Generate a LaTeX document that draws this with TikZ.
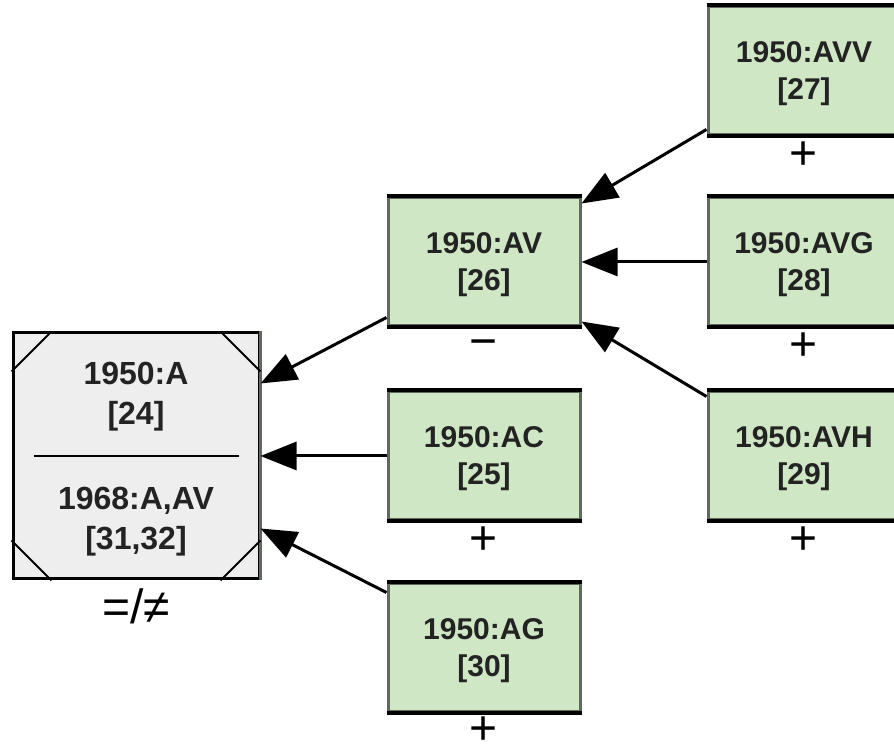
\documentclass[tikz,border=0pt]{standalone}
\usepackage{fontspec}
\setmainfont{Liberation Sans}
\usetikzlibrary{arrows.meta,positioning,calc}
\definecolor{boxgreen}{RGB}{208,231,198}
\definecolor{boxgray}{RGB}{238,238,238}
\definecolor{sidegray}{RGB}{95,105,95}
\definecolor{textgray}{RGB}{35,35,35}

\begin{document}
\begin{tikzpicture}[x=1pt,y=1pt,
  box/.style={fill=boxgreen,draw=sidegray,line width=3pt,
    minimum width=192pt,minimum height=128pt,inner sep=0pt,
    align=center,text=textgray,font=\fontsize{30}{37}\selectfont\bfseries,
    text depth=-2pt,
    append after command={(\tikzlastnode.north west) edge[draw=black,line width=4pt] (\tikzlastnode.north east)
      (\tikzlastnode.south west) edge[draw=black,line width=4pt] (\tikzlastnode.south east)}},
  abox/.style={fill=boxgray,draw=black,line width=3pt,minimum size=246pt,inner sep=0pt},
  atext/.style={align=center,text=textgray,font=\fontsize{32}{40}\selectfont\bfseries},
  sign/.style={font=\fontsize{48}{50}\selectfont,text=black,inner sep=0pt},
  link/.style={-{Triangle[length=36pt,width=28pt]},line width=3pt,draw=black}]

  \useasboundingbox (0,0) rectangle (894,746);

  % root
  \node[abox] (a) at (136,290) {};
  \draw[sidegray,line width=3pt] (a.north east) -- (a.south east);
  \foreach \c/\dx/\dy in {north west/1/-1,north east/-1/-1,south west/1/1,south east/-1/1}
    \draw[line width=2pt] ([yshift=\dy*40pt]a.\c) -- ([xshift=\dx*40pt]a.\c);
  \draw[line width=2pt] ([xshift=22pt]a.west) -- ([xshift=-22pt]a.east);
  \node[atext] (atop) at ([yshift=-65pt]a.north) {1950:A\\{[24]}};
  \node[atext] (abot) at ([yshift=59pt]a.south) {1968:A,AV\\{[31,32]}};

  % children
  \node[box] (av) at (484,484) {1950:AV\\{[26]}};
  \node[box] (ac) at (484,290) {1950:AC\\{[25]}};
  \node[box] (ag) at (484,98) {1950:AG\\{[30]}};
  \node[box] (avv) at (804,675) {1950:AVV\\{[27]}};
  \node[box] (avg) at (804,484) {1950:AVG\\{[28]}};
  \node[box] (avh) at (804,290) {1950:AVH\\{[29]}};

  % signs
  \node[sign] (asign) at ([yshift=-26pt]a.south) {=/≠};
  \node[sign] (avsign) at ([yshift=-21pt]av.south) {−};
  \foreach \n in {ac,avv,avg,avh}
    \node[sign] (\n sign) at ([yshift=-19pt]\n.south) {+};
  \node[sign] (agsign) at ([yshift=-17pt]ag.south) {+};

  % links
  \draw[link] ([yshift=10pt]av.south west) -- ([yshift=-52pt]a.north east);
  \draw[link] (ac.west) -- (a.east);
  \draw[link] ([yshift=-10pt]ag.north west) -- ([yshift=52pt]a.south east);
  \draw[link] ([yshift=7pt]avv.south west) -- ([yshift=-7pt]av.north east);
  \draw[link] (avg.west) -- (av.east);
  \draw[link] ([yshift=-6pt]avh.north west) -- ([yshift=6pt]av.south east);

\end{tikzpicture}
\end{document}
